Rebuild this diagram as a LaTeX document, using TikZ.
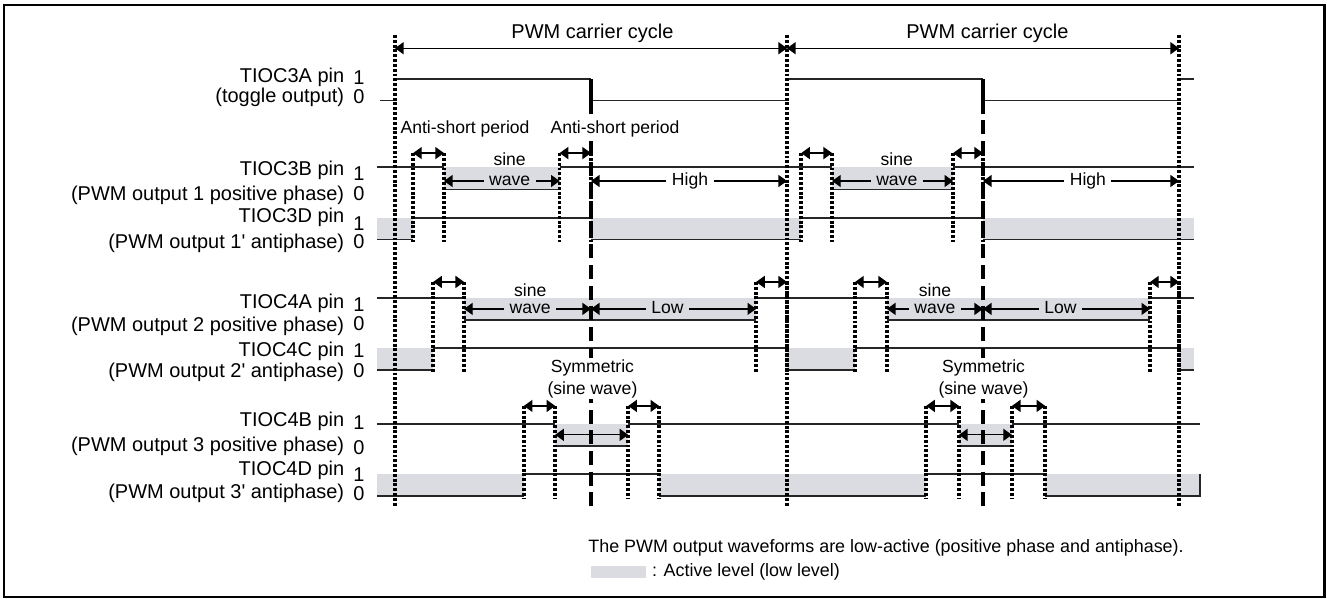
\documentclass[tikz,border=0pt]{standalone}
\usepackage{fontspec}
\setmainfont{Liberation Sans}
\usetikzlibrary{arrows.meta}

\definecolor{activegray}{RGB}{218,220,226}

\tikzset{
  bigtext/.style={font=\fontsize{11.6}{13.9}\selectfont, inner sep=0pt},
  smalltext/.style={font=\fontsize{10.2}{12.3}\selectfont},
  sigline/.style={line width=0.9pt, black!85},
  edgedots/.style={line width=2.1pt, dash pattern=on 1.7pt off 1.1pt},
  midline/.style={line width=2.1pt, dash pattern=on 8pt off 4pt},
  dimarrow/.style={line width=0.75pt, {Triangle[length=5pt,width=7pt]}-{Triangle[length=5pt,width=7pt]}},
  onearrow/.style={line width=0.75pt, -{Triangle[length=5pt,width=7pt]}},
  dimlabel/.style={smalltext, text height=7pt, text depth=2pt, inner sep=3pt},
}

\begin{document}
\begin{tikzpicture}
     \useasboundingbox (-8.061,0) rectangle (19.02,12.224);
     \draw[line width=1.3pt] (-7.98,0.04) rectangle (18.97,12.12);

      %%%%%%%%%%%%%%%%%%%%%%%%%%%%%%%%%%%%%%%%%%%%%%
      %%% Active (low) level of every output
      %%%%%%%%%%%%%%%%%%%%%%%%%%%%%%%%%%%%%%%%%%%%%%
     \foreach \xa/\ya/\xb/\yb in {1.0/8.36/3.36/8.82, 8.92/8.36/11.39/8.82,
         -0.37/7.34/0.37/7.78, 4/7.34/8.29/7.78, 12/7.34/16.31/7.78,
         1.41/5.69/7.37/6.14, 10.04/5.69/15.41/6.14,
         -0.37/4.67/0.78/5.12, 8/4.67/9.39/5.12, 16/4.67/16.31/5.12,
         3.27/3.12/4.76/3.57, 11.51/3.12/12.59/3.57,
         -0.37/2.10/2.63/2.55, 5.39/2.10/10.84/2.55, 13.27/2.10/16.43/2.55}
         \fill[activegray] (\xa,\ya) rectangle (\xb,\yb);

      %%%%%%%%%%%%%%%%%%%%%%%%%%%%%%%%%%%%%%%%%%%%%%
      %%% Waveforms, levels only (edges are the dotted lines)
      %%%%%%%%%%%%%%%%%%%%%%%%%%%%%%%%%%%%%%%%%%%%%%
     % TIOC3A
     \draw[sigline] (-0.31,10.17) -- (0,10.17) (0,10.61) -- (4,10.61) (4,10.17) -- (8,10.17)
         (8,10.61) -- (12,10.61) (12,10.17) -- (16,10.17) (16,10.61) -- (16.31,10.61);
     % TIOC3B
     \draw[sigline] (-0.37,8.82) -- (1.0,8.82) (1.0,8.36) -- (3.36,8.36) (3.36,8.82) -- (8.92,8.82)
         (8.92,8.36) -- (11.39,8.36) (11.39,8.82) -- (16.31,8.82);
     % TIOC3D
     \draw[sigline] (-0.37,7.34) -- (0.37,7.34) (0.37,7.78) -- (4,7.78) (4,7.34) -- (8.29,7.34)
         (8.29,7.78) -- (12,7.78) (12,7.34) -- (16.31,7.34);
     % TIOC4A
     \draw[sigline] (-0.37,6.14) -- (1.41,6.14) (1.41,5.69) -- (7.37,5.69) (7.37,6.14) -- (10.04,6.14)
         (10.04,5.69) -- (15.41,5.69) (15.41,6.14) -- (16.31,6.14);
     % TIOC4C
     \draw[sigline] (-0.37,4.67) -- (0.78,4.67) (0.78,5.12) -- (8,5.12) (8,4.67) -- (9.39,4.67)
         (9.39,5.12) -- (16,5.12) (16,4.67) -- (16.31,4.67);
     % TIOC4B
     \draw[sigline] (-0.37,3.57) -- (3.27,3.57) (3.27,3.12) -- (4.76,3.12) (4.76,3.57) -- (11.51,3.57)
         (11.51,3.12) -- (12.59,3.12) (12.59,3.57) -- (16.43,3.57);
     % TIOC4D
     \draw[sigline] (-0.37,2.10) -- (2.63,2.10) (2.63,2.55) -- (5.39,2.55) (5.39,2.10) -- (10.84,2.10)
         (10.84,2.55) -- (13.27,2.55) (13.27,2.10) -- (16.43,2.10) -- (16.43,2.55);

      %%%%%%%%%%%%%%%%%%%%%%%%%%%%%%%%%%%%%%%%%%%%%%
      %%% Timing lines
      %%%%%%%%%%%%%%%%%%%%%%%%%%%%%%%%%%%%%%%%%%%%%%
     % start of each carrier cycle
     \foreach \x in {0,8,16}
         \draw[edgedots] (\x,11.51) -- (\x,1.88);
     % middle of each carrier cycle (toggle of TIOC3A)
     \foreach \x in {4,12}
     {\draw[line width=2.1pt] (\x,10.61) -- (\x,10.17);
      \draw[midline] (\x,10.61) -- (\x,1.78);
     }
     % switching edges, one group per phase
     \foreach \x in {0.37,1.0,3.36,4,8.29,8.92,11.39,12}
         \draw[edgedots] (\x,9.10) -- (\x,7.28);
     \foreach \x in {0.78,1.41,7.37,8,9.39,10.04,15.41,16}
         \draw[edgedots] (\x,6.47) -- (\x,4.62);
     \foreach \x in {2.63,3.27,4.76,5.39,10.84,11.51,12.59,13.27}
         \draw[edgedots] (\x,3.94) -- (\x,2.05);

     % PWM carrier cycle
     \coordinate (cyc0) at (0,11.24);
     \coordinate (cyc1) at (8,11.24);
     \coordinate (cyc2) at (16,11.24);
     \draw[dimarrow] (cyc0) -- (cyc1);
     \draw[dimarrow] (cyc1) -- (cyc2);
     \node[bigtext, anchor=base] (cyctxt1) at (4.03,11.43) {PWM carrier cycle};
     \node[bigtext, anchor=base] (cyctxt2) at (12.09,11.43) {PWM carrier cycle};

     % anti-short periods
     \foreach \xa/\xb/\y [count=\i] in {0.37/1.0/9.10, 3.36/4/9.10, 8.29/8.92/9.10, 11.39/12/9.10,
         0.78/1.41/6.47, 7.37/8/6.47, 9.39/10.04/6.47, 15.41/16/6.47,
         2.63/3.27/3.94, 4.76/5.39/3.94, 10.84/11.51/3.94, 12.59/13.27/3.94}
     {\coordinate (asl\i) at (\xa,\y);
      \coordinate (asr\i) at (\xb,\y);
      \draw[dimarrow] (asl\i) -- (asr\i);
     }
     \node[smalltext, anchor=base, fill=white, inner sep=1pt] (asp1) at (1.43,9.49) {Anti-short period};
     \node[smalltext, anchor=base, fill=white, inner sep=1pt] (asp2) at (4.49,9.49) {Anti-short period};

     % sine wave / High / Low spans
     \foreach \nm/\txt/\x/\y/\xa/\xb in {sw1/wave/2.34/8.53/1.0/3.36, hi1/High/6.02/8.53/4/8,
         sw2/wave/10.24/8.53/8.92/11.39, hi2/High/14.14/8.53/12/16,
         sw3/wave/2.76/5.92/1.41/4, lo1/Low/5.56/5.92/4/7.37,
         sw4/wave/11.02/5.92/10.04/12, lo2/Low/13.58/5.92/12/15.41}
     {\node[dimlabel] (\nm) at (\x,\y) {\txt};
      \coordinate (\nm-l) at (\xa,\y);
      \coordinate (\nm-r) at (\xb,\y);
      \draw[onearrow] (\nm) -- (\nm-l);
      \draw[onearrow] (\nm) -- (\nm-r);
     }
     \foreach \nm/\x/\y in {sn1/2.34/8.84, sn2/10.24/8.84, sn3/2.76/6.18, sn4/11.02/6.18}
         \node[smalltext, anchor=base, inner sep=0pt] (\nm) at (\x,\y) {sine};

     % symmetric pulse of phase 3
     \foreach \xa/\xb [count=\i] in {3.27/4.76, 11.51/12.59}
     {\coordinate (syl\i) at (\xa,3.35);
      \coordinate (syr\i) at (\xb,3.35);
      \draw[dimarrow] (syl\i) -- (syr\i);
     }
     \node[smalltext, align=center, fill=white, inner sep=1pt] (sym1) at (4.03,4.49) {Symmetric\\(sine wave)};
     \node[smalltext, align=center, fill=white, inner sep=1pt] (sym2) at (12.01,4.49) {Symmetric\\(sine wave)};

      %%%%%%%%%%%%%%%%%%%%%%%%%%%%%%%%%%%%%%%%%%%%%%
      %%% Pin names and levels
      %%%%%%%%%%%%%%%%%%%%%%%%%%%%%%%%%%%%%%%%%%%%%%
     \foreach \nm/\ya/\pin/\yb/\desc in {
         tioc3a/10.55/TIOC3A pin/10.13/{(toggle output)},
         tioc3b/8.65/TIOC3B pin/8.14/{(PWM output 1 positive phase)},
         tioc3d/7.69/TIOC3D pin/7.16/{(PWM output 1\textquotesingle{} antiphase)},
         tioc4a/5.92/TIOC4A pin/5.45/{(PWM output 2 positive phase)},
         tioc4c/4.94/TIOC4C pin/4.51/{(PWM output 2\textquotesingle{} antiphase)},
         tioc4b/3.53/TIOC4B pin/3.00/{(PWM output 3 positive phase)},
         tioc4d/2.53/TIOC4D pin/2.06/{(PWM output 3\textquotesingle{} antiphase)}}
     {\node[bigtext, anchor=base east] (\nm) at (-1.03,\ya) {\pin};
      \node[bigtext, anchor=base east] (\nm-desc) at (-1.03,\yb) {\desc};
     }
     \foreach \y/\d [count=\i] in {10.49/1, 10.12/0, 8.55/1, 8.14/0, 7.53/1, 7.16/0, 5.86/1,
         5.47/0, 4.92/1, 4.51/0, 3.45/1, 2.94/0, 2.39/1, 2.02/0}
         \node[bigtext, anchor=base] (lvl\i) at (-0.735,\y) {\d};

      %%%%%%%%%%%%%%%%%%%%%%%%%%%%%%%%%%%%%%%%%%%%%%
      %%% Note and legend
      %%%%%%%%%%%%%%%%%%%%%%%%%%%%%%%%%%%%%%%%%%%%%%
     \node[smalltext, font=\fontsize{10.4}{12.5}\selectfont, anchor=base west, inner sep=0pt] (note) at (3.94,0.94)
         {The PWM output waveforms are low-active (positive phase and antiphase).};
     \node[fill=activegray, minimum width=1.12cm, minimum height=0.24cm, inner sep=0pt, anchor=south west] (legbox) at (4.0,0.43) {};
     \node[smalltext, font=\fontsize{10.4}{12.5}\selectfont, anchor=base west, inner sep=0pt] (legtxt) at (5.24,0.45)
         {: Active level (low level)};
\end{tikzpicture}
\end{document}
